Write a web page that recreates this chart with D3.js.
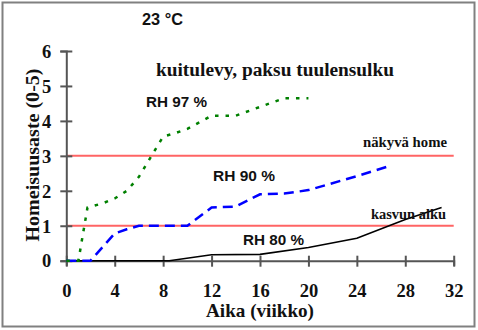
<!DOCTYPE html>
<html>
<head>
<meta charset="utf-8">
<script src="https://cdn.jsdelivr.net/npm/d3@7"></script>
<style>
  html, body { margin: 0; padding: 0; background: #fff; }
  svg { display: block; }
</style>
</head>
<body>
<svg id="chart" width="478" height="330"></svg>
<script>
// Mould index over time, fibreboard with thick wind barrier, 23 °C
const xTicks = [0, 4, 8, 12, 16, 20, 24, 28, 32];
const yTicks = [0, 1, 2, 3, 4, 5, 6];
const thresholds = [1, 3];

const rh97 = [[0, 0], [1, 0], [1.75, 1.52], [3, 1.64], [4, 1.78], [5, 2.0], [6, 2.4], [8, 3.55], [9, 3.65], [10, 3.77], [12, 4.15], [14, 4.15], [16, 4.4], [18, 4.65], [20, 4.65]];
const rh90 = [[0, 0], [2, 0], [4, 0.78], [5, 0.9], [6, 1.0], [10, 1.0], [12, 1.52], [14, 1.55], [16, 1.9], [18, 1.92], [20, 2.02], [24, 2.42], [26.8, 2.72]];
const rh80 = [[0, 0], [8.5, 0], [12, 0.17], [16, 0.18], [20, 0.38], [24, 0.64], [28, 1.18], [31, 1.52]];

const svg = d3.select("#chart");
const W = 478, H = 330;

// outer frame
svg.append("rect").attr("x", 0).attr("y", 0).attr("width", W).attr("height", H).attr("fill", "#fff");
svg.append("rect").attr("x", 2.5).attr("y", 2.5).attr("width", 472).attr("height", 324)
  .attr("fill", "none").attr("stroke", "#808080").attr("stroke-width", 2);

const x = d3.scaleLinear().domain([0, 32]).range([66.3, 453.7]);
const y = d3.scaleLinear().domain([0, 6]).range([260.7, 51]);

const serif = "'Liberation Serif', 'Times New Roman', serif";
const sans = "'Liberation Sans', Arial, sans-serif";
const axisColor = "#555";

// threshold lines
svg.append("g").selectAll("line").data(thresholds).join("line")
  .attr("x1", x(0)).attr("x2", x(32))
  .attr("y1", d => y(d)).attr("y2", d => y(d))
  .attr("stroke", "#ff6464").attr("stroke-width", 2);

// axes
const gx = svg.append("g").attr("transform", `translate(0,${y(0)})`)
  .call(d3.axisBottom(x).tickValues(xTicks).tickFormat(d3.format("d")).tickSizeOuter(0).tickSize(5));
const gy = svg.append("g").attr("transform", `translate(${x(0)},0)`)
  .call(d3.axisLeft(y).tickValues(yTicks).tickFormat(d3.format("d")).tickSizeOuter(0).tickSize(6));

[gx, gy].forEach(g => {
  g.select(".domain").attr("stroke", axisColor).attr("stroke-width", 2);
  g.selectAll(".tick line").attr("stroke", axisColor).attr("stroke-width", 2);
  g.selectAll(".tick text").attr("font-family", serif).attr("font-weight", "bold")
    .attr("font-size", 18.5).attr("fill", "#111");
});
gx.selectAll(".tick line").attr("y1", -5).attr("y2", 6);
gx.selectAll(".tick text").attr("y", 23.5).attr("dy", "0.71em");
gy.selectAll(".tick line").attr("x1", -6).attr("x2", 6);
gy.selectAll(".tick text").attr("x", -15).attr("dy", "0.34em");

// series
const line = d3.line().x(d => x(d[0])).y(d => y(d[1]));
svg.append("path").datum(rh80).attr("d", line)
  .attr("fill", "none").attr("stroke", "#000").attr("stroke-width", 1.6);
svg.append("path").datum(rh90).attr("d", line)
  .attr("fill", "none").attr("stroke", "#0000ff").attr("stroke-width", 2.5)
  .attr("stroke-dasharray", "10,6");
svg.append("path").datum(rh97).attr("d", line)
  .attr("fill", "none").attr("stroke", "#008000").attr("stroke-width", 2.5)
  .attr("stroke-dasharray", "3.5,7");

// texts
function txt(tx, ty, s, font, size, anchor, len) {
  const t = svg.append("text").attr("x", tx).attr("y", ty).text(s)
    .attr("font-family", font).attr("font-weight", "bold").attr("font-size", size)
    .attr("fill", "#111").attr("text-anchor", anchor || "start");
  if (len) t.attr("textLength", len).attr("lengthAdjust", "spacingAndGlyphs");
  return t;
}
txt(142, 25, "23 °C", sans, 16.5, "start", 41);
txt(156, 76, "kuitulevy, paksu tuulensulku", serif, 18, "start", 238);
txt(146, 107, "RH 97 %", sans, 15.5, "start", 61);
txt(213, 181, "RH 90 %", sans, 15.5, "start", 62);
txt(243, 245, "RH 80 %", sans, 15.5, "start", 61);
txt(363, 147, "näkyvä home", serif, 14.5, "start", 84);
txt(371, 219, "kasvun alku", serif, 14.5, "start", 75);
txt(206, 317, "Aika (viikko)", serif, 19, "start", 108);
svg.append("text")
  .attr("transform", `translate(39,155) rotate(-90)`)
  .attr("text-anchor", "middle")
  .attr("font-family", serif).attr("font-weight", "bold").attr("font-size", 18)
  .attr("fill", "#111").attr("textLength", 173).attr("lengthAdjust", "spacingAndGlyphs")
  .text("Homeisuusaste (0-5)");
</script>
</body>
</html>
